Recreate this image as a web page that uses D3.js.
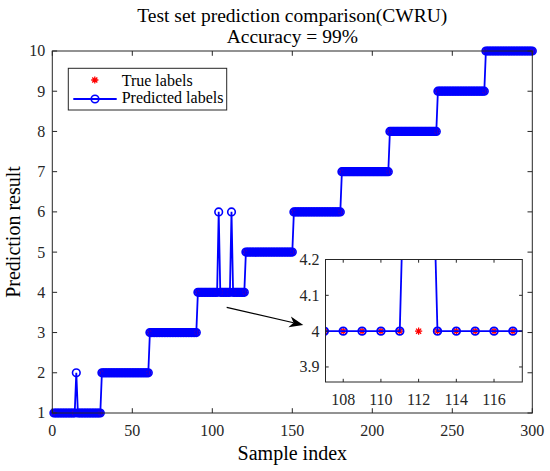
<!DOCTYPE html>
<html><head><meta charset="utf-8">
<script src="https://cdn.jsdelivr.net/npm/d3@7"></script>
<style>body{margin:0;background:#fff}svg{display:block}svg text{font-family:"Liberation Serif","Times New Roman",serif}</style>
</head><body><svg id="c" width="550" height="471" font-family="Liberation Serif, Times New Roman, serif"></svg>
<script>
// ---- data ----
const sampleIndex = d3.range(1, 301); // sample numbers 1..300
const trueLabels = [
1,1,1,1,1,1,1,1,1,1,1,1,1,1,1,1,1,1,1,1,1,1,1,1,1,1,1,1,1,1,
2,2,2,2,2,2,2,2,2,2,2,2,2,2,2,2,2,2,2,2,2,2,2,2,2,2,2,2,2,2,
3,3,3,3,3,3,3,3,3,3,3,3,3,3,3,3,3,3,3,3,3,3,3,3,3,3,3,3,3,3,
4,4,4,4,4,4,4,4,4,4,4,4,4,4,4,4,4,4,4,4,4,4,4,4,4,4,4,4,4,4,
5,5,5,5,5,5,5,5,5,5,5,5,5,5,5,5,5,5,5,5,5,5,5,5,5,5,5,5,5,5,
6,6,6,6,6,6,6,6,6,6,6,6,6,6,6,6,6,6,6,6,6,6,6,6,6,6,6,6,6,6,
7,7,7,7,7,7,7,7,7,7,7,7,7,7,7,7,7,7,7,7,7,7,7,7,7,7,7,7,7,7,
8,8,8,8,8,8,8,8,8,8,8,8,8,8,8,8,8,8,8,8,8,8,8,8,8,8,8,8,8,8,
9,9,9,9,9,9,9,9,9,9,9,9,9,9,9,9,9,9,9,9,9,9,9,9,9,9,9,9,9,9,
10,10,10,10,10,10,10,10,10,10,10,10,10,10,10,10,10,10,10,10,10,10,10,10,10,10,10,10,10,10
];
const predictedLabels = [
1,1,1,1,1,1,1,1,1,1,1,1,1,1,2,1,1,1,1,1,1,1,1,1,1,1,1,1,1,1,
2,2,2,2,2,2,2,2,2,2,2,2,2,2,2,2,2,2,2,2,2,2,2,2,2,2,2,2,2,2,
3,3,3,3,3,3,3,3,3,3,3,3,3,3,3,3,3,3,3,3,3,3,3,3,3,3,3,3,3,3,
4,4,4,4,4,4,4,4,4,4,4,4,4,6,4,4,4,4,4,4,4,6,4,4,4,4,4,4,4,4,
5,5,5,5,5,5,5,5,5,5,5,5,5,5,5,5,5,5,5,5,5,5,5,5,5,5,5,5,5,5,
6,6,6,6,6,6,6,6,6,6,6,6,6,6,6,6,6,6,6,6,6,6,6,6,6,6,6,6,6,6,
7,7,7,7,7,7,7,7,7,7,7,7,7,7,7,7,7,7,7,7,7,7,7,7,7,7,7,7,7,7,
8,8,8,8,8,8,8,8,8,8,8,8,8,8,8,8,8,8,8,8,8,8,8,8,8,8,8,8,8,8,
9,9,9,9,9,9,9,9,9,9,9,9,9,9,9,9,9,9,9,9,9,9,9,9,9,9,9,9,9,9,
10,10,10,10,10,10,10,10,10,10,10,10,10,10,10,10,10,10,10,10,10,10,10,10,10,10,10,10,10,10
];
const xTicks = [0, 50, 100, 150, 200, 250, 300];
const yTicks = [1, 2, 3, 4, 5, 6, 7, 8, 9, 10];
const insetXTicks = [108, 110, 112, 114, 116];
const insetYTicks = [3.9, 4, 4.1, 4.2];
const insetXDomain = [107.06, 117.5];
const insetYDomain = [3.858, 4.2];
const titleLines = ["Test set prediction comparison(CWRU)", "Accuracy = 99%"];
const xLabel = "Sample index", yLabel = "Prediction result";
const legendLabels = ["True labels", "Predicted labels"];

// ---- drawing ----
const svg = d3.select("#c");
const FONT = "Liberation Serif, Times New Roman, serif";
const AX = "#262626", BLUE = "#0000ff", RED = "#ff0000";
const M = {l: 52.3, r: 532.3, t: 51, b: 413};
const I = {l: 325.5, r: 522.3, t: 259.5, b: 382};
const pts = sampleIndex.map((s, i) => ({s, t: trueLabels[i], p: predictedLabels[i]}));

const starPath = r => {
  const d = r * Math.SQRT1_2;
  return `M${-r},0L${r},0M0,${-r}L0,${r}M${-d},${-d}L${d},${d}M${-d},${d}L${d},${-d}`;
};
const txt = (g) => g.append("text").attr("font-family", FONT);

function drawAxes(g, box, xs, ys, xt, yt, tickLen, fmtY, opt) {
  const W = box.r - box.l, H = box.b - box.t;
  g.append("rect").attr("x", box.l).attr("y", box.t).attr("width", W).attr("height", H)
    .attr("fill", "#fff").attr("stroke", "none");
  const clipId = "clip" + Math.round(box.l);
  svg.append("clipPath").attr("id", clipId).append("rect")
    .attr("x", box.l).attr("y", box.t).attr("width", W).attr("height", H);
  const plot = g.append("g").attr("clip-path", opt.clip ? `url(#${clipId})` : null);
  const vis = pts.filter(d => d.s >= xs.domain()[0] - 1 && d.s <= xs.domain()[1] + 1);
  // true labels (stars)
  plot.append("g").selectAll("path").data(vis)
    .join("path").attr("d", starPath(opt.starR))
    .attr("transform", d => `translate(${xs(d.s)},${ys(d.t)})`)
    .attr("stroke", RED).attr("stroke-width", 1.3).attr("fill", "none");
  // predicted line + circles
  const line = d3.line().x(d => xs(d.s)).y(d => ys(d.p));
  plot.append("path").datum(pts).attr("d", line).attr("fill", "none")
    .attr("stroke", BLUE).attr("stroke-width", opt.lw);
  plot.append("g").selectAll("circle").data(vis)
    .join("circle").attr("cx", d => xs(d.s)).attr("cy", d => ys(d.p)).attr("r", opt.cr)
    .attr("fill", "none").attr("stroke", BLUE).attr("stroke-width", opt.cw);
  // frame
  g.append("rect").attr("x", box.l).attr("y", box.t).attr("width", W).attr("height", H)
    .attr("fill", "none").attr("stroke", AX).attr("stroke-width", 1);
  // ticks (inward, all four sides)
  xt.forEach(v => {
    const xp = xs(v);
    g.append("line").attr("x1", xp).attr("x2", xp).attr("y1", box.b).attr("y2", box.b - tickLen).attr("stroke", AX);
    g.append("line").attr("x1", xp).attr("x2", xp).attr("y1", box.t).attr("y2", box.t + tickLen).attr("stroke", AX);
    txt(g).attr("x", xp).attr("y", box.b + opt.xLabOff).attr("text-anchor", "middle")
      .attr("font-size", opt.fs).attr("fill", AX).text(v);
  });
  yt.forEach(v => {
    const yp = ys(v);
    g.append("line").attr("y1", yp).attr("y2", yp).attr("x1", box.l).attr("x2", box.l + tickLen).attr("stroke", AX);
    g.append("line").attr("y1", yp).attr("y2", yp).attr("x1", box.r).attr("x2", box.r - tickLen).attr("stroke", AX);
    txt(g).attr("x", box.l - opt.yLabOff).attr("y", yp).attr("dy", "0.34em").attr("text-anchor", "end")
      .attr("font-size", opt.fs).attr("fill", AX).text(fmtY(v));
  });
}

// main axes
const x = d3.scaleLinear().domain([0, 300]).range([M.l, M.r]);
const y = d3.scaleLinear().domain([1, 10]).range([M.b, M.t]);
const gMain = svg.append("g");
drawAxes(gMain, M, x, y, xTicks, yTicks, 4.8, v => v,
  {clip: false, starR: 3.6, lw: 1.8, cr: 3.8, cw: 1.6, fs: 16, xLabOff: 22.7, yLabOff: 7});

// titles & labels
titleLines.forEach((t, i) => txt(svg).attr("x", (M.l + M.r) / 2).attr("y", 21.7 + i * 21.6)
  .attr("text-anchor", "middle").attr("font-size", 19.5).attr("fill", "#000").text(t));
txt(svg).attr("x", (M.l + M.r) / 2).attr("y", 460).attr("text-anchor", "middle")
  .attr("font-size", 20).attr("fill", "#000").text(xLabel);
txt(svg).attr("transform", `translate(20,${(M.t + M.b) / 2}) rotate(-90)`).attr("text-anchor", "middle")
  .attr("font-size", 20).attr("fill", "#000").text(yLabel);

// legend
const lg = svg.append("g");
lg.append("rect").attr("x", 68.3).attr("y", 68.3).attr("width", 158.4).attr("height", 41.7)
  .attr("fill", "#fff").attr("stroke", AX).attr("stroke-width", 1);
lg.append("path").attr("d", starPath(3.6)).attr("transform", "translate(94.8,80)")
  .attr("stroke", RED).attr("stroke-width", 1.3).attr("fill", "none");
lg.append("line").attr("x1", 73.3).attr("x2", 116.7).attr("y1", 99).attr("y2", 99).attr("stroke", BLUE).attr("stroke-width", 1.8);
lg.append("circle").attr("cx", 95).attr("cy", 99).attr("r", 3.8).attr("fill", "none").attr("stroke", BLUE).attr("stroke-width", 1.6);
legendLabels.forEach((t, i) => txt(lg).attr("x", 121.7).attr("y", 85.5 + i * 17.5)
  .attr("font-size", 16).attr("fill", "#000").text(t));

// arrow annotation
const a0 = [226.7, 307.3], a1 = [303.3, 325];
const ang = Math.atan2(a1[1] - a0[1], a1[0] - a0[0]);
const hl = 14, hw = 5.5, nb = 4;
const rot = (px, py) => [a1[0] + px * Math.cos(ang) - py * Math.sin(ang), a1[1] + px * Math.sin(ang) + py * Math.cos(ang)];
svg.append("line").attr("x1", a0[0]).attr("y1", a0[1]).attr("x2", rot(-hl + nb, 0)[0]).attr("y2", rot(-hl + nb, 0)[1])
  .attr("stroke", "#000").attr("stroke-width", 1.2);
svg.append("path").attr("d", "M" + [rot(0, 0), rot(-hl, -hw), rot(-hl + nb, 0), rot(-hl, hw)].map(p => p.join(",")).join("L") + "Z")
  .attr("fill", "#000");

// inset axes
const xi = d3.scaleLinear().domain(insetXDomain).range([I.l, I.r]);
const yi = d3.scaleLinear().domain(insetYDomain).range([I.b, I.t]);
const gIn = svg.append("g");
drawAxes(gIn, I, xi, yi, insetXTicks, insetYTicks, 3.2, v => d3.format("")(v),
  {clip: true, starR: 3.6, lw: 1.8, cr: 3.8, cw: 1.8, fs: 16, xLabOff: 23, yLabOff: 6});
</script></body></html>
